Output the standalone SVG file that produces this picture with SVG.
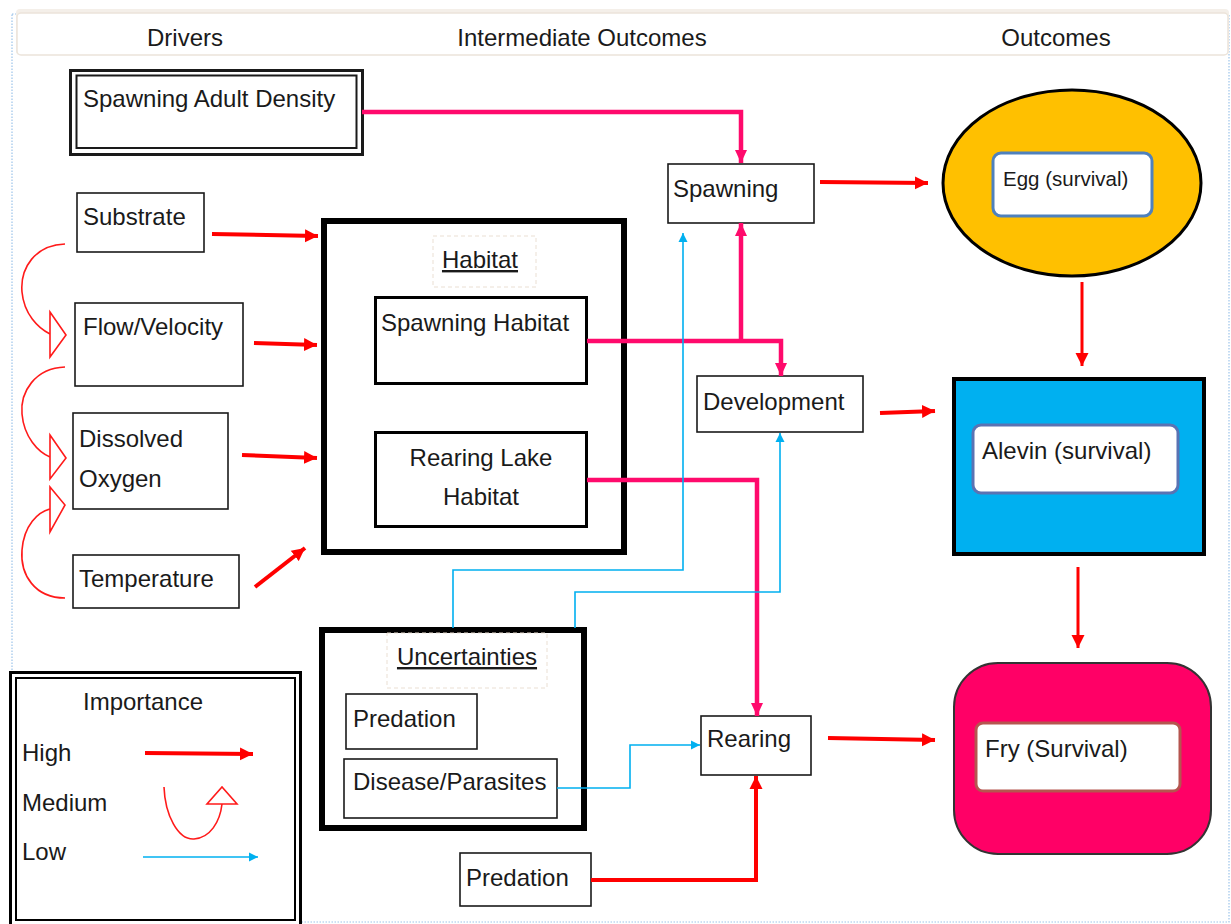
<svg xmlns="http://www.w3.org/2000/svg" width="1231" height="924" viewBox="0 0 1231 924">
<style>
text{font-family:"Liberation Sans",Arial,sans-serif;font-size:24px;fill:#1a1a1a}
.box{fill:#fff;stroke:#1a1a1a;stroke-width:1.6}
.hi{fill:none;stroke:#ff0000;stroke-width:4}
.pk{fill:none;stroke:#ff0a6c;stroke-width:4.5}
.lo{fill:none;stroke:#00b0f0;stroke-width:1.6}
.med{fill:none;stroke:#ff1a1a;stroke-width:1.6}
.medh{fill:#fff;stroke:#ff1a1a;stroke-width:1.6}
.lbl{fill:#fff;stroke:#eadfd3;stroke-width:1;stroke-dasharray:4,3}
</style>
<defs>
<marker id="ar" markerUnits="userSpaceOnUse" markerWidth="14" markerHeight="14" refX="13" refY="7" orient="auto"><path d="M0,0.5 L13,7 L0,13.5 z" fill="#ff0000"/></marker>
<marker id="ap" markerUnits="userSpaceOnUse" markerWidth="14" markerHeight="14" refX="13" refY="7" orient="auto"><path d="M0,1 L13,7 L0,13 z" fill="#ff0a6c"/></marker>
<marker id="ab" markerUnits="userSpaceOnUse" markerWidth="10" markerHeight="10" refX="9" refY="5" orient="auto"><path d="M0,0.5 L9,5 L0,9.5 z" fill="#00b0f0"/></marker>
</defs>
<rect x="0" y="0" width="1231" height="924" fill="#fff"/>
<rect x="12" y="14" width="1217" height="908" fill="none" stroke="#9cc3ea" stroke-width="1.2" stroke-dasharray="1.5,1.5"/>
<g id="header">
<rect x="16" y="9" width="1213" height="46" rx="4" fill="#f4efe9"/>
<rect x="17" y="13" width="1211" height="42" rx="4" fill="#fff" stroke="#ece4da" stroke-width="1.5"/>
<text x="185" y="46" text-anchor="middle">Drivers</text>
<text x="582" y="46" text-anchor="middle">Intermediate Outcomes</text>
<text x="1056" y="46" text-anchor="middle">Outcomes</text>
</g>
<g id="spawning-adult-density">
<rect x="70.5" y="70.5" width="292" height="84" fill="#fff" stroke="#1a1a1a" stroke-width="3"/>
<rect x="76.5" y="75.5" width="280" height="72.5" fill="none" stroke="#1a1a1a" stroke-width="2"/>
<text x="83" y="107">Spawning Adult Density</text>
</g>
<g id="substrate"><rect class="box" x="77" y="193" width="127" height="59"/><text x="83" y="225">Substrate</text></g>
<g id="flow-velocity"><rect class="box" x="75" y="303" width="168" height="83"/><text x="83" y="335">Flow/Velocity</text></g>
<g id="dissolved-oxygen"><rect class="box" x="73" y="413" width="155" height="96"/><text x="79" y="447">Dissolved</text><text x="79" y="487">Oxygen</text></g>
<g id="temperature"><rect class="box" x="73" y="555" width="166" height="53"/><text x="79" y="587">Temperature</text></g>
<g id="habitat">
<rect x="324" y="221" width="300" height="331" fill="#fff" stroke="#000" stroke-width="6"/>
<rect class="lbl" x="433" y="236" width="103" height="51"/>
<text x="480" y="268" text-anchor="middle" text-decoration="underline">Habitat</text>
</g>
<g id="spawning-habitat"><rect x="375.5" y="297.5" width="211" height="86" fill="#fff" stroke="#000" stroke-width="3"/><text x="381" y="331">Spawning Habitat</text></g>
<g id="rearing-lake-habitat"><rect x="375.5" y="432.5" width="211" height="94" fill="#fff" stroke="#000" stroke-width="3"/><text x="481" y="466" text-anchor="middle">Rearing Lake</text><text x="481" y="505" text-anchor="middle">Habitat</text></g>
<g id="spawning"><rect class="box" x="668" y="164" width="146" height="59"/><text x="673" y="197">Spawning</text></g>
<g id="development"><rect class="box" x="697" y="376" width="166" height="56"/><text x="703" y="410">Development</text></g>
<g id="rearing"><rect class="box" x="701" y="716" width="110" height="59"/><text x="707" y="747">Rearing</text></g>
<g id="uncertainties">
<rect x="322" y="630" width="262" height="198" fill="#fff" stroke="#000" stroke-width="6"/>
<rect class="lbl" x="387" y="633" width="160" height="55"/>
<text x="467" y="665" text-anchor="middle" text-decoration="underline">Uncertainties</text>
</g>
<g id="predation-uncertainty"><rect class="box" x="346" y="694" width="131" height="55"/><text x="353" y="727">Predation</text></g>
<g id="disease-parasites"><rect class="box" x="344" y="759" width="213" height="59"/><text x="353" y="790">Disease/Parasites</text></g>
<g id="predation"><rect class="box" x="460" y="853" width="131" height="53"/><text x="466" y="886">Predation</text></g>
<g id="egg">
<ellipse cx="1072" cy="183" rx="129" ry="93" fill="#ffc000" stroke="#000" stroke-width="3"/>
<rect x="993" y="153" width="159" height="63" rx="8" fill="#fff" stroke="#4f81bd" stroke-width="3"/>
<text x="1003" y="186" style="font-size:20.5px">Egg (survival)</text>
</g>
<g id="alevin">
<rect x="954" y="379" width="250" height="175" fill="#00b0f0" stroke="#000" stroke-width="4"/>
<rect x="973" y="425" width="205" height="68" rx="8" fill="#fff" stroke="#5a73b3" stroke-width="3"/>
<text x="982" y="459">Alevin (survival)</text>
</g>
<g id="fry">
<rect x="954" y="663" width="257" height="191" rx="44" fill="#ff0066" stroke="#333" stroke-width="2"/>
<rect x="976" y="723" width="204" height="68" rx="7" fill="#fff" stroke="#b5554f" stroke-width="3"/>
<text x="985" y="757">Fry (Survival)</text>
</g>
<g id="legend">
<rect x="10.5" y="672.5" width="290" height="254" fill="#fff" stroke="#000" stroke-width="3"/>
<rect x="16" y="678" width="279" height="242" fill="none" stroke="#000" stroke-width="2"/>
<text x="83" y="710">Importance</text>
<text x="22" y="761">High</text>
<text x="22" y="811">Medium</text>
<text x="22" y="860">Low</text>
<path class="hi" d="M145,753 L253,754" marker-end="url(#ar)"/>
<path class="med" d="M164,787 C165,815 178,840 194,839 C210,838 220,822 222,804"/>
<polygon class="medh" points="207,804 237,804 222,787"/>
<path class="lo" d="M143,857 L258,857" marker-end="url(#ab)"/>
</g>
<g id="connectors">
<path class="med" d="M65,244 C35,245 20,268 22,292 C24,314 38,328 50,334"/>
<polygon class="medh" points="50,312 66,335 50,357"/>
<path class="med" d="M65,367 C35,368 20,392 22,414 C24,437 38,452 50,457"/>
<polygon class="medh" points="50,435 66,458 50,479"/>
<path class="med" d="M65,598 C35,598 20,575 22,550 C24,525 38,512 50,509"/>
<polygon class="medh" points="50,487 65,505 50,532"/>
<path class="hi" d="M212,234 L318,236" marker-end="url(#ar)"/>
<path class="hi" d="M254,343 L317,345" marker-end="url(#ar)"/>
<path class="hi" d="M242,455 L317,458" marker-end="url(#ar)"/>
<path class="hi" d="M255,587 L305,548" marker-end="url(#ar)"/>
<path class="pk" d="M362,112 H741 V163" marker-end="url(#ap)"/>
<path class="pk" d="M587,341 H781 V376" marker-end="url(#ap)"/>
<path class="pk" d="M741,341 V223" marker-end="url(#ap)"/>
<path class="pk" d="M587,480 H757 V716" marker-end="url(#ap)"/>
<path class="lo" d="M453,628 V570 H683 V233" marker-end="url(#ab)"/>
<path class="lo" d="M575,628 V592 H780 V433" marker-end="url(#ab)"/>
<path class="lo" d="M557,788 H630 V745 H700" marker-end="url(#ab)"/>
<path class="hi" d="M591,880 H756 V776" marker-end="url(#ar)"/>
<path class="hi" d="M820,182 L928,183" marker-end="url(#ar)"/>
<path class="hi" style="stroke-width:3" d="M1082,282 V366" marker-end="url(#ar)"/>
<path class="hi" d="M880,413 L935,411" marker-end="url(#ar)"/>
<path class="hi" style="stroke-width:3" d="M1078,567 V648" marker-end="url(#ar)"/>
<path class="hi" d="M828,738 L935,740" marker-end="url(#ar)"/>
</g>
</svg>
